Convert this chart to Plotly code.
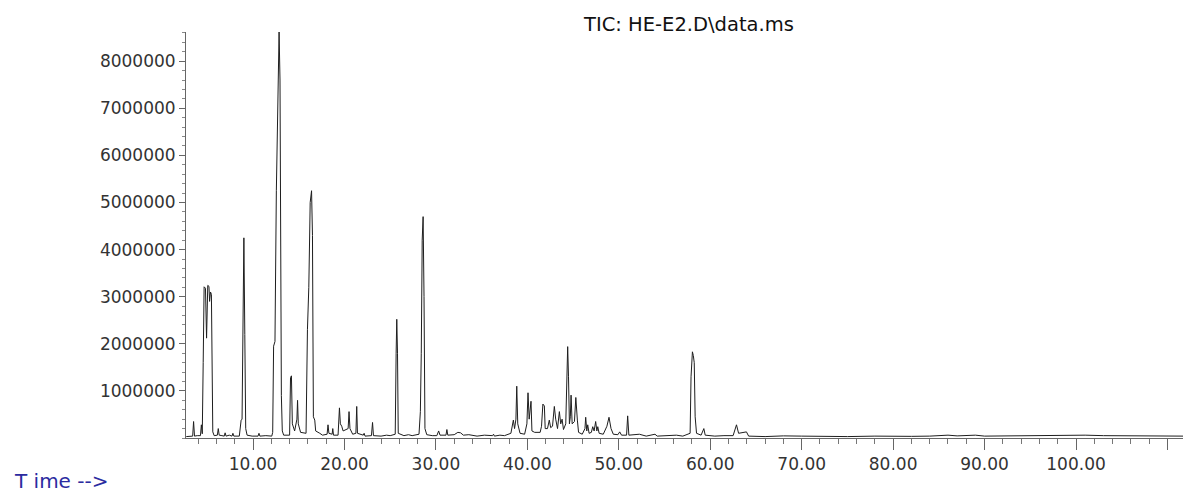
import plotly.graph_objects as go

# Retention time (min) and abundance
retention_time_min = [
    2.70, 3.00, 3.40, 3.50, 3.60, 3.90, 4.25, 4.35, 4.45, 4.55, 4.65, 4.80, 4.92, 5.05, 5.18, 5.25,
    5.35, 5.45, 5.52, 5.60, 5.75, 6.10, 6.20, 6.30, 6.60, 6.85, 6.95, 7.05, 7.40, 7.70, 7.80, 7.90,
    8.50, 8.70, 8.80, 8.90, 9.00, 9.10, 9.20, 9.35, 9.90, 10.55, 10.65, 10.75, 11.40, 12.05, 12.15,
    12.25, 12.40, 12.55, 12.70, 12.85, 12.95, 13.02, 13.10, 13.20, 13.35, 14.00, 14.10, 14.20, 14.30,
    14.55, 14.80, 14.87, 14.95, 15.20, 15.80, 15.95, 16.10, 16.25, 16.40, 16.50, 16.60, 16.75, 16.85,
    17.30, 17.60, 18.10, 18.20, 18.30, 18.65, 18.72, 18.80, 19.30, 19.45, 19.55, 19.70, 19.85, 20.40,
    20.50, 20.60, 20.90, 21.25, 21.34, 21.42, 22.05, 22.15, 22.25, 22.95, 23.07, 23.17, 24.00, 24.60,
    25.00, 25.55, 25.65, 25.72, 25.80, 25.88, 26.50, 27.00, 27.40, 28.15, 28.30, 28.40, 28.50, 28.60,
    28.70, 28.80, 29.00, 29.60, 30.10, 30.30, 30.45, 31.10, 31.20, 31.30, 32.00, 32.40, 32.70, 33.00,
    33.60, 34.50, 35.30, 36.20, 36.30, 36.40, 37.00, 37.50, 38.20, 38.47, 38.60, 38.75, 38.84, 38.95,
    39.20, 39.70, 39.95, 40.07, 40.20, 40.40, 40.50, 40.80, 41.40, 41.55, 41.70, 41.86, 41.95, 42.20,
    42.40, 42.55, 42.75, 42.95, 43.10, 43.30, 43.50, 43.65, 43.80, 43.95, 44.20, 44.35, 44.41, 44.50,
    44.60, 44.70, 44.78, 44.90, 45.15, 45.30, 45.40, 45.47, 45.60, 46.00, 46.30, 46.38, 46.50, 46.60,
    46.75, 47.00, 47.15, 47.30, 47.47, 47.60, 47.70, 47.85, 48.30, 48.70, 48.93, 49.15, 49.40, 49.90,
    50.10, 50.30, 50.85, 50.97, 51.10, 52.25, 53.00, 53.96, 54.20, 55.50, 56.30, 57.00, 57.80, 57.90,
    58.05, 58.15, 58.25, 58.35, 58.50, 59.00, 59.30, 59.45, 60.50, 61.50, 62.50, 62.87, 63.10, 63.96,
    64.20, 66.00, 68.00, 70.00, 72.00, 75.00, 78.00, 80.00, 82.00, 84.00, 85.00, 86.00, 87.00, 88.00,
    89.00, 90.00, 92.00, 95.00, 98.00, 100.00, 101.00, 103.00, 105.00, 108.00, 110.00, 111.70,
]
abundance = [
    30000, 40000, 40000, 350000, 40000, 50000, 50000, 280000, 90000, 1600000, 3210000, 3180000, 2120000,
    3240000, 3220000, 2900000, 3100000, 3050000, 600000, 130000, 50000, 60000, 200000, 60000, 50000,
    40000, 110000, 40000, 60000, 40000, 100000, 40000, 40000, 380000, 400000, 2700000, 4250000, 2200000,
    200000, 60000, 40000, 40000, 100000, 40000, 50000, 40000, 120000, 1950000, 2050000, 5250000, 7500000,
    8620000, 7600000, 4300000, 900000, 150000, 60000, 60000, 1280000, 1320000, 300000, 150000, 400000,
    800000, 300000, 120000, 100000, 2300000, 3200000, 5000000, 5250000, 4300000, 450000, 380000, 150000,
    100000, 60000, 80000, 280000, 100000, 80000, 200000, 60000, 60000, 640000, 300000, 250000, 150000,
    200000, 560000, 200000, 80000, 100000, 670000, 100000, 60000, 100000, 40000, 50000, 330000, 50000,
    40000, 60000, 50000, 80000, 1800000, 2520000, 1800000, 100000, 50000, 70000, 50000, 80000, 560000,
    1800000, 4200000, 4700000, 3000000, 200000, 70000, 50000, 50000, 150000, 60000, 60000, 180000, 60000,
    70000, 120000, 110000, 60000, 70000, 40000, 60000, 50000, 80000, 40000, 60000, 50000, 100000, 380000,
    200000, 400000, 1100000, 300000, 100000, 80000, 300000, 960000, 400000, 780000, 150000, 120000,
    120000, 250000, 720000, 680000, 200000, 200000, 380000, 220000, 250000, 670000, 400000, 200000,
    560000, 300000, 400000, 180000, 300000, 1300000, 1940000, 1300000, 300000, 450000, 910000, 300000,
    350000, 860000, 400000, 380000, 120000, 80000, 200000, 440000, 150000, 280000, 100000, 120000,
    240000, 150000, 350000, 150000, 240000, 100000, 80000, 250000, 440000, 200000, 80000, 70000, 130000,
    60000, 60000, 470000, 60000, 80000, 40000, 80000, 40000, 50000, 60000, 40000, 100000, 1300000,
    1830000, 1750000, 1600000, 450000, 100000, 60000, 200000, 60000, 40000, 50000, 50000, 280000,
    100000, 130000, 40000, 30000, 45000, 40000, 35000, 30000, 40000, 30000, 35000, 40000, 55000, 60000,
    45000, 50000, 60000, 40000, 45000, 40000, 45000, 50000, 60000, 50000, 50000, 45000, 40000, 40000,
]

x_tick_values = [10, 20, 30, 40, 50, 60, 70, 80, 90, 100, 110]
x_tick_labels = ["10.00", "20.00", "30.00", "40.00", "50.00", "60.00", "70.00", "80.00", "90.00", "100.00", ""]
y_tick_values = [1000000, 2000000, 3000000, 4000000, 5000000, 6000000, 7000000, 8000000]
y_tick_labels = ["1000000", "2000000", "3000000", "4000000", "5000000", "6000000", "7000000", "8000000"]

chart_title = "TIC: HE-E2.D\\data.ms"
x_caption = "T ime -->"

fig = go.Figure()
fig.add_trace(go.Scatter(
    x=retention_time_min, y=abundance, mode="lines",
    line=dict(color="#1e1e1e", width=1), hoverinfo="x+y", showlegend=False,
))

axis_font = dict(family="DejaVu Sans", size=17, color="#333333")

fig.update_layout(
    width=1183, height=496,
    margin=dict(l=186, r=0, t=32, b=58),
    paper_bgcolor="white", plot_bgcolor="white",
    xaxis=dict(
        range=[2.67, 111.7], showgrid=False, zeroline=False,
        showline=True, linecolor="#666666", linewidth=1,
        tickmode="array", tickvals=x_tick_values, ticktext=x_tick_labels,
        ticks="outside", ticklen=11, tickcolor="#666666", tickwidth=1,
        tickfont=axis_font,
        minor=dict(tickmode="linear", tick0=0, dtick=2, ticks="outside", ticklen=5,
                   tickcolor="#777777", tickwidth=1, showgrid=False),
    ),
    yaxis=dict(
        range=[0, 8620000], showgrid=False, zeroline=False,
        showline=True, linecolor="#666666", linewidth=1,
        tickmode="array", tickvals=y_tick_values, ticktext=y_tick_labels,
        ticks="outside", ticklen=6, tickcolor="#666666", tickwidth=1,
        tickfont=axis_font,
        minor=dict(tickmode="linear", tick0=0, dtick=200000, ticks="outside", ticklen=3,
                   tickcolor="#888888", tickwidth=1, showgrid=False),
    ),
    annotations=[
        dict(text=chart_title, xref="paper", yref="paper", x=0.5045, y=1.0185,
             xanchor="center", yanchor="middle", showarrow=False,
             font=dict(family="DejaVu Sans", size=19.5, color="#111111")),
        dict(text=x_caption, xref="paper", yref="paper", x=-0.1745, y=-0.1405,
             xanchor="left", yanchor="bottom", showarrow=False,
             font=dict(family="DejaVu Sans", size=20, color="#2b2ba0")),
    ],
)

fig.write_html("out.html")
